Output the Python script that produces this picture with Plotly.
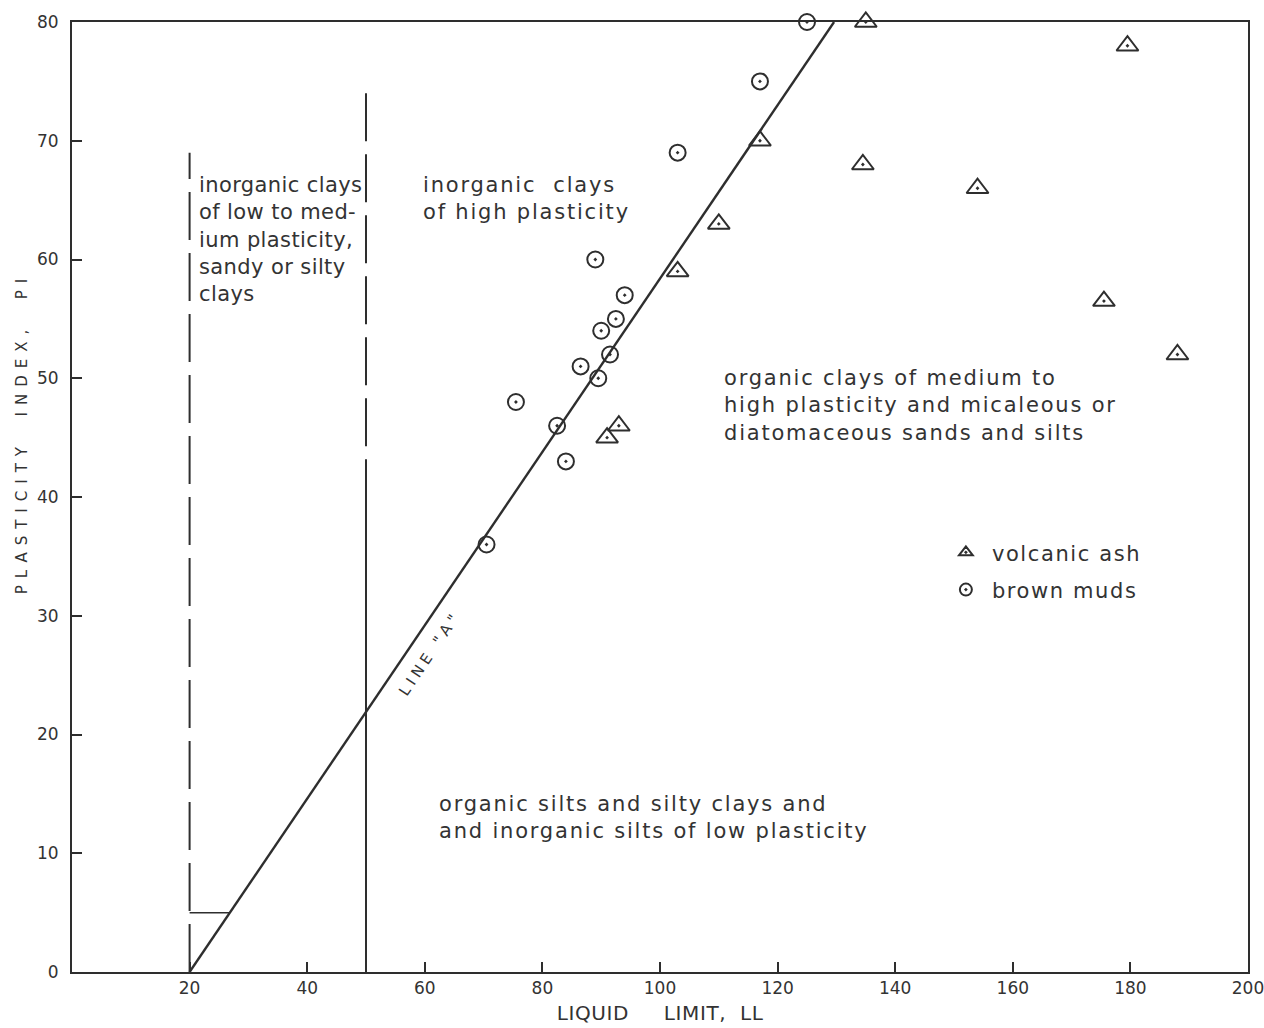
import plotly.graph_objects as go

# ---- data ----
ash_ll = [135, 179.5, 117, 134.5, 154, 110, 103, 175.5, 188, 93, 91]
ash_pi = [80, 78, 70, 68, 66, 63, 59, 56.5, 52, 46, 45]

mud_ll = [125, 117, 103, 89, 94, 92.5, 90, 91.5, 86.5, 89.5, 75.5, 82.5, 84, 70.5]
mud_pi = [80, 75, 69, 60, 57, 55, 54, 52, 51, 50, 48, 46, 43, 36]

# Line "A": PI = 0.73 (LL - 20), clipped at PI = 80
line_a_ll = [20, 129.6]
line_a_pi = [0, 80]

# boundary lines
ll_low = 20          # dashed, PI 0..69
ll_low_top = 69
ll_high = 50         # solid 0..40, dashed 40..74
ll_high_split = 40
ll_high_top = 74
pi_small = 5         # short horizontal at PI = 5
pi_small_end = 26.85

x_ticks = [20, 40, 60, 80, 100, 120, 140, 160, 180, 200]
y_ticks = [0, 10, 20, 30, 40, 50, 60, 70, 80]

INK = "#2e2e2e"
TXT = "#333333"
FONT = "DejaVu Sans"

fig = go.Figure()

fig.add_trace(go.Scatter(x=line_a_ll, y=line_a_pi, mode="lines",
                         line=dict(color=INK, width=2.4), showlegend=False,
                         hoverinfo="skip", cliponaxis=False))

fig.add_trace(go.Scatter(x=ash_ll, y=ash_pi, mode="markers", name="volcanic ash",
                         marker=dict(symbol="triangle-up-open-dot", size=19,
                                     color=INK, line=dict(color=INK, width=2)),
                         legendgroup="a", cliponaxis=False))
fig.add_trace(go.Scatter(x=mud_ll, y=mud_pi, mode="markers", name="brown muds",
                         marker=dict(symbol="circle-open-dot", size=16,
                                     color=INK, line=dict(color=INK, width=2)),
                         legendgroup="b", cliponaxis=False))

dash = "48px,13px"
shapes = [
    dict(type="line", xref="x", yref="y", x0=ll_low, x1=ll_low, y0=0, y1=ll_low_top,
         line=dict(color=INK, width=2, dash=dash)),
    dict(type="line", xref="x", yref="y", x0=ll_high, x1=ll_high, y0=0, y1=ll_high_split,
         line=dict(color=INK, width=2)),
    dict(type="line", xref="x", yref="y", x0=ll_high, x1=ll_high, y0=ll_high_top, y1=ll_high_split,
         line=dict(color=INK, width=2, dash=dash)),
    dict(type="line", xref="x", yref="y", x0=ll_low, x1=pi_small_end, y0=pi_small, y1=pi_small,
         line=dict(color=INK, width=1.5)),
]

tf = dict(family=FONT, size=21, color=TXT)
ann = [
    dict(x=21.2, y=61.7, xref="x", yref="y", xanchor="left", yanchor="middle", align="left",
         showarrow=False, font=tf,
         text="inorganic clays<br>of low to med-<br>ium plasticity,<br>sandy or silty<br>clays"),
    dict(x=59.3, y=65.1, xref="x", yref="y", xanchor="left", yanchor="middle", align="left",
         showarrow=False, font=tf,
         text="inorganic  clays<br>of high plasticity"),
    dict(x=110.5, y=47.7, xref="x", yref="y", xanchor="left", yanchor="middle", align="left",
         showarrow=False, font=tf,
         text="organic clays of medium to<br>high plasticity and micaleous or<br>diatomaceous sands and silts"),
    dict(x=62.0, y=13.0, xref="x", yref="y", xanchor="left", yanchor="middle", align="left",
         showarrow=False, font=tf,
         text="organic silts and silty clays and<br>and inorganic silts of low plasticity"),
    dict(x=60.8, y=26.8, xref="x", yref="y", xanchor="center", yanchor="middle",
         showarrow=False, textangle=-56, font=dict(family=FONT, size=15, color=TXT),
         text="LINE \"A\""),
    dict(x=0.5005, y=-0.043, xref="paper", yref="paper", xanchor="center", yanchor="middle",
         showarrow=False, font=dict(family=FONT, size=20, color=TXT),
         text="LIQUID&nbsp;&nbsp;&nbsp;&nbsp;&nbsp;LIMIT,&nbsp;&nbsp;LL"),
    dict(x=-0.0425, y=0.567, xref="paper", yref="paper", xanchor="center", yanchor="middle",
         showarrow=False, textangle=-90, font=dict(family=FONT, size=15, color=TXT),
         text="PLASTICITY&nbsp;&nbsp;INDEX,&nbsp;&nbsp;PI"),
]

fig.update_layout(
    width=1264, height=1028,
    margin=dict(l=72, r=16, t=22, b=56, autoexpand=False),
    paper_bgcolor="white", plot_bgcolor="white",
    shapes=shapes, annotations=ann,
    font=dict(family=FONT, color=TXT),
    legend=dict(x=0.738, y=0.463, xanchor="left", yanchor="top",
                font=dict(family=FONT, size=21, color=TXT),
                bgcolor="rgba(0,0,0,0)", traceorder="grouped", tracegroupgap=7,
                itemsizing="constant", itemwidth=42),
    showlegend=True,
)
axis_common = dict(ticks="inside", ticklen=10, tickwidth=2, tickcolor=INK,
                   showline=True, linecolor=INK, linewidth=2, mirror=True,
                   showgrid=False, zeroline=False, automargin=False,
                   ticklabeloverflow="allow",
                   tickfont=dict(family=FONT, size=17, color=TXT))
fig.update_xaxes(range=[0, 200], tickvals=x_ticks, **axis_common)
fig.update_yaxes(range=[0, 80], tickvals=y_ticks, ticklabelstandoff=8, **axis_common)

post = """
var gd = document.getElementById('{plot_id}');
var spec = {'0':0.4, '1':1.8, '2':1.8, '3':1.8, '4':4.5, '5':0.6, '6':7};
gd.querySelectorAll('g.annotation').forEach(function(g){
  var s = spec[g.getAttribute('data-index')];
  if (s !== undefined) {
    g.querySelectorAll('text').forEach(function(t){ t.style.letterSpacing = s + 'px'; });
  }
});
gd.querySelectorAll('g.legend [clip-path]').forEach(function(el){ el.removeAttribute('clip-path'); });
gd.querySelectorAll('g.legend text.legendtext').forEach(function(t){ t.style.letterSpacing = '1.6px'; });
"""

fig.write_html("out.html", post_script=post, config={"displayModeBar": False})
